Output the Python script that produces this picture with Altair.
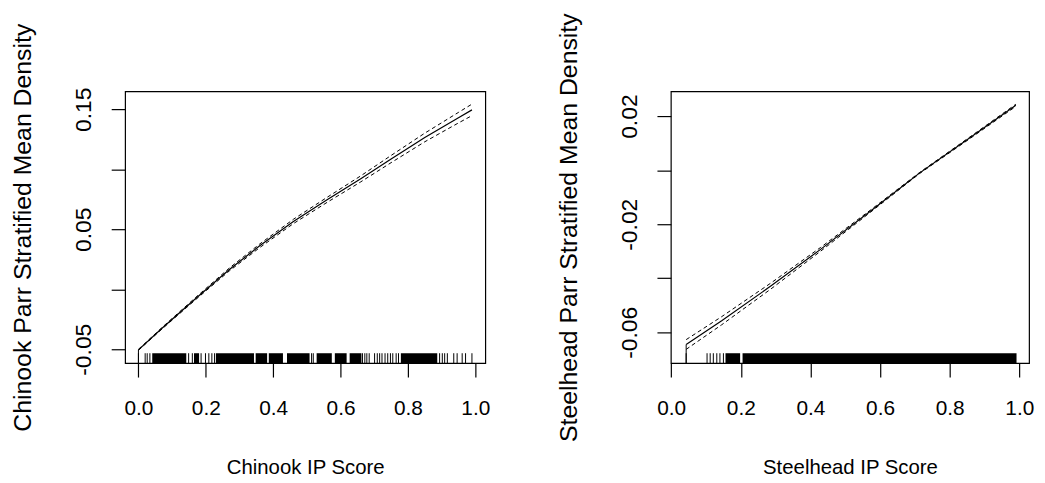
import altair as alt
import pandas as pd

FONT = "Liberation Sans"

# ---------------- Chinook panel ----------------
chin_x = [0.0, 0.07, 0.17, 0.27, 0.36, 0.46, 0.56, 0.66, 0.75, 0.85, 0.95, 0.99]
chin_fit = [-0.0505, -0.0325, -0.0077, 0.0165, 0.0362, 0.0565, 0.0745, 0.0920,
            0.1085, 0.1265, 0.1430, 0.1495]
chin_se = [0.0004, 0.0006, 0.0009, 0.0012, 0.0015, 0.0018, 0.0021, 0.0025,
           0.0030, 0.0036, 0.0044, 0.0048]
chin_rug = [0.000, 0.020, 0.026, 0.034, 0.149, 0.160, 0.186, 0.199, 0.209, 0.218,
            0.226, 0.514, 0.519, 0.665, 0.672, 0.678, 0.685, 0.701, 0.709, 0.716,
            0.723, 0.732, 0.740, 0.748, 0.755, 0.765, 0.772, 0.894, 0.902, 0.909,
            0.917, 0.936, 0.946, 0.961, 0.971, 0.990]
chin_run_start = [0.041, 0.165, 0.230, 0.348, 0.387, 0.441, 0.529, 0.583, 0.627, 0.779]
chin_run_end = [0.142, 0.180, 0.343, 0.382, 0.429, 0.508, 0.574, 0.618, 0.662, 0.887]
chin_xdomain = [-0.0396, 1.0296]
chin_ydomain = [-0.0616, 0.165]
chin_yticks = [-0.05, 0.0, 0.05, 0.10, 0.15]
chin_ylabels = ["-0.05", "", "0.05", "", "0.15"]

# ---------------- Steelhead panel ----------------
steel_x = [0.043, 0.145, 0.287, 0.429, 0.572, 0.714, 0.856, 0.990]
steel_fit = [-0.0645, -0.0557, -0.0428, -0.0293, -0.0152, -0.0010, 0.0118, 0.0240]
steel_se = [0.0018, 0.0015, 0.0011, 0.0007, 0.0004, 0.0002, 0.0003, 0.0004]
steel_rug = [0.043, 0.103, 0.112, 0.121, 0.131, 0.140, 0.150]
steel_run_start = [0.156, 0.205]
steel_run_end = [0.198, 0.992]
steel_xdomain = [-0.001, 1.028]
steel_ydomain = [-0.0714, 0.0292]
steel_yticks = [-0.06, -0.04, -0.02, 0.0, 0.02]
steel_ylabels = ["-0.06", "", "-0.02", "", "0.02"]

x_ticks = [0.0, 0.2, 0.4, 0.6, 0.8, 1.0]
x_labels = ["0.0", "0.2", "0.4", "0.6", "0.8", "1.0"]

H = 274
RUG_H = 10


def label_expr(values, labels):
    expr = "''"
    for v, l in reversed(list(zip(values, labels))):
        expr = f"abs(datum.value - ({v})) < 1e-9 ? '{l}' : {expr}"
    return expr


def panel(xs, fit, se, rug, rs, re, xdom, ydom, yt, yl, xtitle, ytitle, width):
    xenc = alt.X(
        "x:Q",
        scale=alt.Scale(domain=xdom, nice=False, zero=False),
        axis=alt.Axis(
            values=x_ticks, labelExpr=label_expr(x_ticks, x_labels), title=xtitle,
            labelFontSize=21, labelPadding=21, labelBaseline="top",
            titleFontSize=20.5, titleX=width / 2, titleY=111,
            titleBaseline="alphabetic", titleAlign="center",
        ),
    )
    yscale = alt.Scale(domain=ydom, nice=False, zero=False)
    yaxis = alt.Axis(
        values=yt, labelExpr=label_expr(yt, yl), title=ytitle,
        labelAngle=270, labelFontSize=23, labelAlign="center",
        labelBaseline="bottom", labelPadding=16,
        titleFontSize=25, titleAngle=270, titleX=-95, titleY=H / 2,
        titleBaseline="alphabetic", titleAlign="center",
    )
    yenc = alt.Y("y:Q", scale=yscale, axis=yaxis)

    fit_df = pd.DataFrame({"x": xs, "y": fit})
    hi_df = pd.DataFrame({"x": xs, "y": [f + s for f, s in zip(fit, se)]})
    lo_df = pd.DataFrame({"x": xs, "y": [f - s for f, s in zip(fit, se)]})
    drop_df = pd.DataFrame({"x": [xs[0]], "y": [fit[0]]})
    rug_df = pd.DataFrame({"x": rug})
    run_df = pd.DataFrame({"x": rs, "x2": re})

    hi = alt.Chart(hi_df).mark_line(color="black", strokeWidth=1, strokeDash=[4, 3]).encode(x=xenc, y=yenc)
    lo = alt.Chart(lo_df).mark_line(color="black", strokeWidth=1, strokeDash=[4, 3]).encode(x=xenc, y=yenc)
    line = alt.Chart(fit_df).mark_line(color="black", strokeWidth=1.2).encode(x=xenc, y=yenc)
    drop = alt.Chart(drop_df).mark_rule(color="black", strokeWidth=1).encode(
        x=xenc, y=yenc, y2=alt.value(H))
    ticks = alt.Chart(rug_df).mark_rule(color="black", strokeWidth=1).encode(
        x=xenc, y=alt.value(H - RUG_H), y2=alt.value(H))
    runs = alt.Chart(run_df).mark_rect(color="black").encode(
        x=xenc, x2="x2:Q", y=alt.value(H - RUG_H), y2=alt.value(H))
    return alt.layer(hi, lo, line, drop, ticks, runs).properties(width=width, height=H)


left = panel(chin_x, chin_fit, chin_se, chin_rug, chin_run_start, chin_run_end,
             chin_xdomain, chin_ydomain, chin_yticks, chin_ylabels,
             "Chinook IP Score", "Chinook Parr Stratified Mean Density", 363)
right = panel(steel_x, steel_fit, steel_se, steel_rug, steel_run_start, steel_run_end,
              steel_xdomain, steel_ydomain, steel_yticks, steel_ylabels,
              "Steelhead IP Score", "Steelhead Parr Stratified Mean Density", 361)

chart = (
    alt.hconcat(left, right, spacing=187, bounds="flush")
    .properties(
        autosize=alt.AutoSizeParams(type="none"),
        padding={"left": 118, "top": 81, "right": 919, "bottom": 394},
        background="white",
    )
    .configure_view(stroke="black", strokeWidth=1.2)
    .configure_axis(
        domain=False, grid=False, tickSize=14, tickColor="black", tickWidth=1.2,
        labelFont=FONT, labelColor="black", titleFont=FONT, titleColor="black",
        titleFontWeight="normal", labelOverlap=False, labelFlush=False,
    )
)

chart.save("out.html", embed_options={"renderer": "svg", "actions": False})
